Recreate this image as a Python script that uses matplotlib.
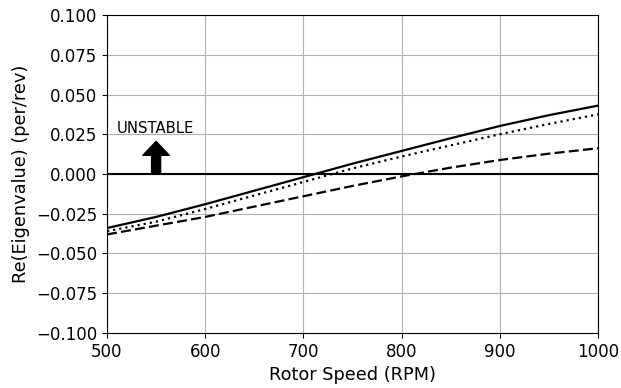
import numpy as np
import matplotlib.pyplot as plt

rpm = [500, 550, 600, 650, 700, 750, 800, 850, 900, 950, 1000]
re_solid = [-0.034, -0.027, -0.019, -0.0105, -0.002, 0.0065, 0.0145, 0.0225, 0.0302, 0.037, 0.043]
re_dotted = [-0.036, -0.030, -0.022, -0.0135, -0.005, 0.0035, 0.011, 0.018, 0.025, 0.0315, 0.0375]
re_dashed = [-0.038, -0.0325, -0.027, -0.0205, -0.014, -0.0075, -0.0015, 0.004, 0.0088, 0.0128, 0.0162]

fig = plt.figure(figsize=(6.21, 3.88), dpi=100)
ax = fig.add_axes([0.1723, 0.1418, 0.7907, 0.8195])

ax.plot(rpm, re_solid, 'k-', lw=1.6)
ax.plot(rpm, re_dotted, 'k', lw=1.6, dashes=(1, 1.8))
ax.plot(rpm, re_dashed, 'k', lw=1.6, dashes=(4.5, 1.9))
ax.axhline(0, color='k', lw=1.5)

# stability marker
ax.annotate('', xy=(550, 0.0205), xytext=(550, 0),
            arrowprops=dict(facecolor='k', edgecolor='k', width=6.5,
                            headwidth=19, headlength=10))
ax.text(510, 0.0255, 'UNSTABLE', fontsize=10.7)

ax.set_xlim(500, 1000)
ax.set_ylim(-0.1, 0.1)
ax.set_yticks(np.arange(-0.1, 0.1001, 0.025))
ax.grid(True, color='#b0b0b0', lw=0.8)
ax.tick_params(labelsize=12)
ax.set_xlabel('Rotor Speed (RPM)', fontsize=12.8)
ax.set_ylabel('Re(Eigenvalue) (per/rev)', fontsize=12.8)

fig.savefig('out.png', dpi=100)
